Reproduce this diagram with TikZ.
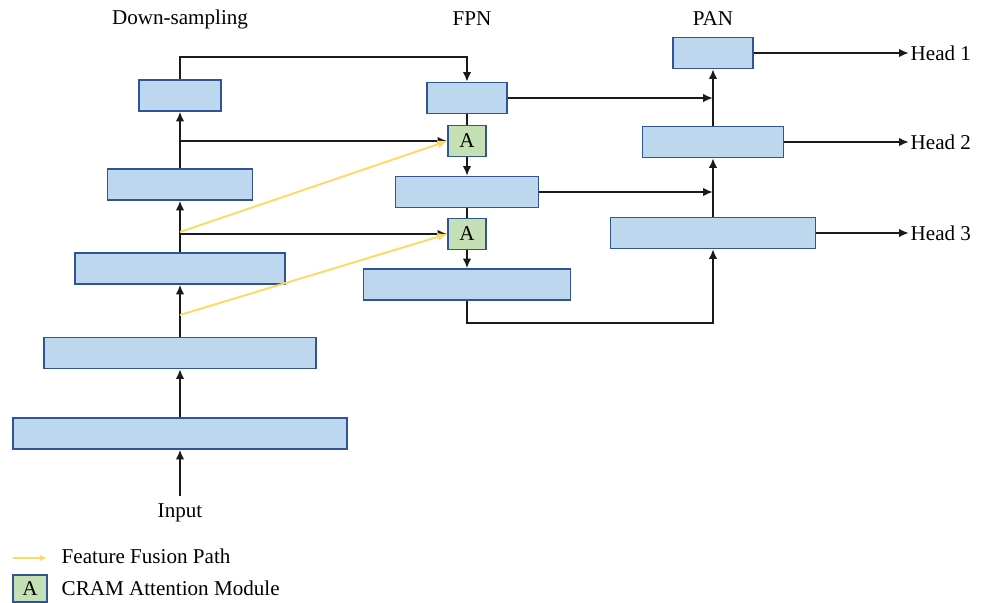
\documentclass[tikz,border=0pt]{standalone}
\usepackage{fontspec}
\setmainfont{Liberation Serif}
\usetikzlibrary{arrows.meta}
\definecolor{boxfill}{HTML}{BDD7EE}
\definecolor{boxline}{HTML}{2F5597}
\definecolor{attfill}{HTML}{C5E0B4}
\definecolor{fuse}{HTML}{FFD966}
\definecolor{ink}{HTML}{1A1A1A}
\tikzset{
  blk/.style={draw=boxline, fill=boxfill, line width=0.8pt, inner sep=0pt,
    minimum height=0.775cm, minimum width=#1},
  att/.style={draw=boxline, fill=attfill, line width=0.8pt, inner sep=0pt,
    minimum height=0.775cm, minimum width=0.95cm,
    font=\fontsize{15}{17}\selectfont},
  arr/.style={draw=ink, line width=1.4pt, -{Latex[length=7pt,width=6pt]}},
  lin/.style={draw=ink, line width=1.4pt},
  fus/.style={draw=fuse, line width=1.4pt, -{Latex[length=7pt,width=6pt]}},
  lbl/.style={font=\fontsize{15}{17}\selectfont, inner sep=1pt}
}

\begin{document}
\begin{tikzpicture}[x=0.025cm, y=-0.025cm]
  \useasboundingbox (0,0) rectangle (987,603);
  % column titles
  \node[lbl] (tdown) at (180,19) {Down-sampling};
  \node[lbl] (tfpn) at (472,19) {FPN};
  \node[lbl] (tpan) at (713,19) {PAN};
  % down-sampling path
  \node[blk=8.35cm] (D1) at (180,433.5) {};
  \node[blk=6.8cm]  (D2) at (180,353) {};
  \node[blk=5.25cm] (D3) at (180,268.5) {};
  \node[blk=3.625cm] (D4) at (180,184.5) {};
  \node[blk=2.05cm] (D5) at (180,95.5) {};
  % FPN
  \node[blk=2.0cm]   (F1) at (467,98) {};
  \node[att]         (A1) at (467,141) {A};
  \node[blk=3.575cm] (F2) at (467,192) {};
  \node[att]         (A2) at (467,234) {A};
  \node[blk=5.175cm] (F3) at (467,284.5) {};
  % PAN
  \node[blk=2.0cm]   (P1) at (713,53) {};
  \node[blk=3.525cm] (P2) at (713,142) {};
  \node[blk=5.125cm] (P3) at (713,233) {};
  % heads and input
  \node[lbl, anchor=west] (H1) at (909,53) {Head 1};
  \node[lbl, anchor=west] (H2) at (909,142) {Head 2};
  \node[lbl, anchor=west] (H3) at (909,233) {Head 3};
  \node[lbl] (in) at (180,513) {Input};
  \coordinate (inp) at (180,496);
  \coordinate (top) at (180,57);
  \coordinate (j1) at (180,141);
  \coordinate (j2) at (180,234);
  \coordinate (y1) at (180,232);
  \coordinate (y2) at (180,315);
  \coordinate (bot) at (467,323);

  \draw[arr] (inp) -- (D1.south);
  \foreach \a/\b in {D1/D2,D2/D3,D3/D4,D4/D5}
    \draw[arr] (\a.north) -- (\b.south);
  \draw[arr] (D5.north) -- (top) -| (F1.north);
  \draw[arr] (j1) -- (A1.west);
  \draw[arr] (j2) -- (A2.west);
  \draw[fus] (y1) -- (A1.west);
  \draw[fus] (y2) -- (A2.west);

  \draw[lin] (F1.south) -- (A1.north);
  \draw[arr] (A1.south) -- (F2.north);
  \draw[lin] (F2.south) -- (A2.north);
  \draw[arr] (A2.south) -- (F3.north);
  \draw[arr] (F3.south) -- (bot) -| (P3.south);
  \draw[arr] (F1.east) -- (F1.east -| P1.south);
  \draw[arr] (F2.east) -- (F2.east -| P1.south);

  \draw[arr] (P3.north) -- (P2.south);
  \draw[arr] (P2.north) -- (P1.south);
  \foreach \p/\h in {P1/H1,P2/H2,P3/H3}
    \draw[arr] (\p.east) -- (\h.west);

  % legend
  \coordinate (ls) at (13,558);
  \coordinate (le) at (47,558);
  \draw[fus, line width=1.3pt, -{Latex[length=5pt,width=4.5pt]}] (ls) -- (le);
  \node[lbl, anchor=west] (lfus) at (60,556) {Feature Fusion Path};
  \node[att, minimum width=0.85cm, minimum height=0.675cm] (lA) at (30,588.5) {A};
  \node[lbl, anchor=west] (latt) at (60,588) {CRAM Attention Module};
\end{tikzpicture}
\end{document}
